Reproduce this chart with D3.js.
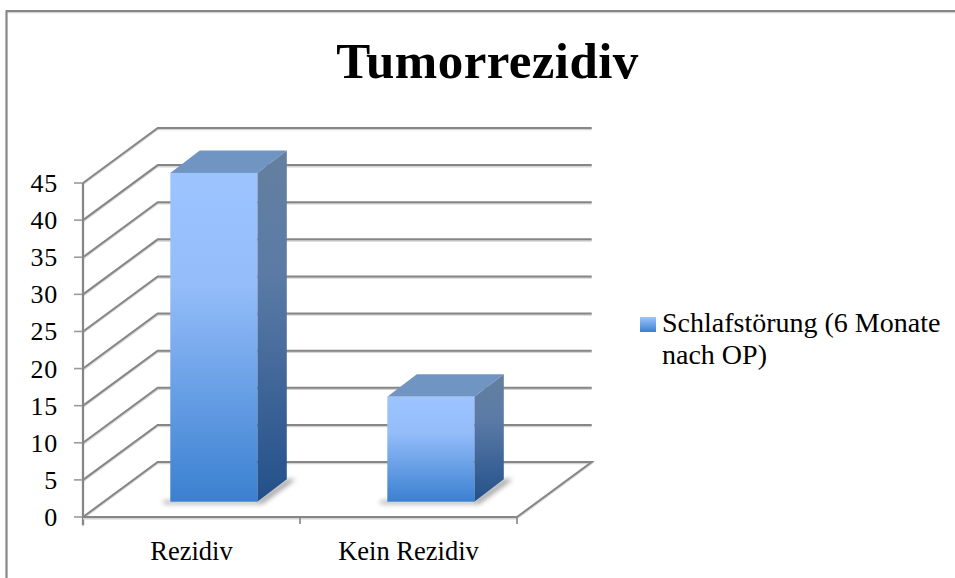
<!DOCTYPE html>
<html><head><meta charset="utf-8">
<style>html,body{margin:0;padding:0;background:#fff}svg{display:block}</style>
<script src="https://cdn.jsdelivr.net/npm/d3@7"></script></head>
<body><svg id="c" width="955" height="578"></svg>
<script>
const categories = ["Rezidiv", "Kein Rezidiv"];
const seriesValues = [44.3, 14.15];
const seriesName = ["Schlafstörung (6 Monate", "nach OP)"];
const titleText = "Tumorrezidiv";
const tickValues = [0, 5, 10, 15, 20, 25, 30, 35, 40, 45];

const FONT = "'Liberation Serif', serif";
const GRID = "#868686";
const svg = d3.select("#c");
const y = d3.scaleLinear().domain([0, 45]).range([517, 183]);
const x = d3.scaleBand().domain(categories).range([83, 517]);
const wallDx = 74.7, wallDy = -55;
const floorDx = 22.3, floorDy = -15.3, barW = 87, depthX = 29.5, depthY = -22.5;

const defs = svg.append("defs");
function grad(id, stops) {
  const g = defs.append("linearGradient").attr("id", id).attr("x1", 0).attr("y1", 0).attr("x2", 0).attr("y2", 1);
  stops.forEach(s => g.append("stop").attr("offset", s[0]).attr("stop-color", s[1]));
}
grad("front", [[0, "#9dc4ff"], [0.35, "#93bcf9"], [1, "#3a80d0"]]);
grad("side", [[0, "#64809f"], [0.35, "#5b7ba6"], [1, "#23508a"]]);
grad("legendG", [[0, "#9dc4ff"], [1, "#3a80d0"]]);
defs.append("filter").attr("id", "soft").attr("x", "-30%").attr("y", "-30%").attr("width", "160%").attr("height", "160%")
  .append("feGaussianBlur").attr("stdDeviation", 2.6);

// a line with its light shadow underneath
function shaded(parent, d, w) {
  parent.append("path").attr("d", d).attr("fill", "none").attr("stroke", "#d4d4d4")
    .attr("stroke-width", w).attr("transform", "translate(0,1.3)");
  parent.append("path").attr("d", d).attr("fill", "none").attr("stroke", GRID).attr("stroke-width", w);
}

// frame
shaded(svg, "M6.5,578V11H955", 2);

// title
svg.append("text").attr("x", 487.5).attr("y", 78).attr("text-anchor", "middle")
  .attr("font-family", FONT).attr("font-weight", "bold").attr("font-size", 51).attr("letter-spacing", 0.4).attr("fill", "#000").text(titleText);

const [x0, x1] = x.range();

// walls: gridlines, ticks, tick labels
tickValues.forEach(t => {
  const yy = y(t);
  const d = t === 0
    ? `M${x0},${yy}L${x0 + wallDx},${yy + wallDy}H${x1 + wallDx}L${x1},${yy}`
    : `M${x0},${yy}L${x0 + wallDx},${yy + wallDy}H${x1 + wallDx}`;
  shaded(svg, d, 2);
  svg.append("line").attr("x1", x0 - 9).attr("x2", x0).attr("y1", yy).attr("y2", yy)
    .attr("stroke", "#9a9a9a").attr("stroke-width", 1.6);
  svg.append("text").attr("x", 58).attr("y", yy + 9).attr("text-anchor", "end").attr("font-family", FONT)
    .attr("font-size", 26).attr("letter-spacing", 0.8).attr("fill", "#000").text(t);
});

// bars
categories.forEach((c, i) => {
  const v = seriesValues[i];
  const cx = x(c) + x.bandwidth() / 2 + floorDx;
  const left = cx - barW / 2, right = cx + barW / 2;
  const base = y(0) + floorDy, top = y(v) + floorDy;
  svg.append("path").attr("d", `M${left - 8},${base - 1}H${right}L${right + depthX},${base + depthY}H${right + depthX + 9}L${right + 5},${base + 2}H${left - 6}Z`)
    .attr("fill", "#777").attr("opacity", 0.7).attr("filter", "url(#soft)");
  svg.append("path").attr("d", `M${left},${top}L${left + depthX},${top + depthY}H${right + depthX}L${right},${top}Z`).attr("fill", "#7095c2");
  svg.append("path").attr("d", `M${right},${top}L${right + depthX},${top + depthY}V${base + depthY}L${right},${base}Z`).attr("fill", "url(#side)");
  svg.append("rect").attr("x", left).attr("y", top).attr("width", barW).attr("height", base - top).attr("fill", "url(#front)");
});

// floor front & y axis
shaded(svg, `M${x0},${y(45)}V${y(0) + 8}`, 2.2);
shaded(svg, `M${x0},${y(0)}H${x1}`, 2.2);
[x0 + x.bandwidth(), x1].forEach(px => {
  svg.append("line").attr("x1", px).attr("x2", px).attr("y1", y(0)).attr("y2", y(0) + 7)
    .attr("stroke", GRID).attr("stroke-width", 1.6);
});

// category labels
categories.forEach(c => {
  svg.append("text").attr("x", x(c) + x.bandwidth() / 2).attr("y", 560).attr("text-anchor", "middle")
    .attr("font-family", FONT).attr("font-size", 26.5).attr("fill", "#000").text(c);
});

// legend
svg.append("rect").attr("x", 640).attr("y", 317).attr("width", 16).attr("height", 15).attr("fill", "url(#legendG)");
seriesName.forEach((s, i) => {
  svg.append("text").attr("x", 662).attr("y", 332 + i * 32).attr("font-family", FONT)
    .attr("font-size", 28).attr("fill", "#000").text(s);
});
</script></body></html>
